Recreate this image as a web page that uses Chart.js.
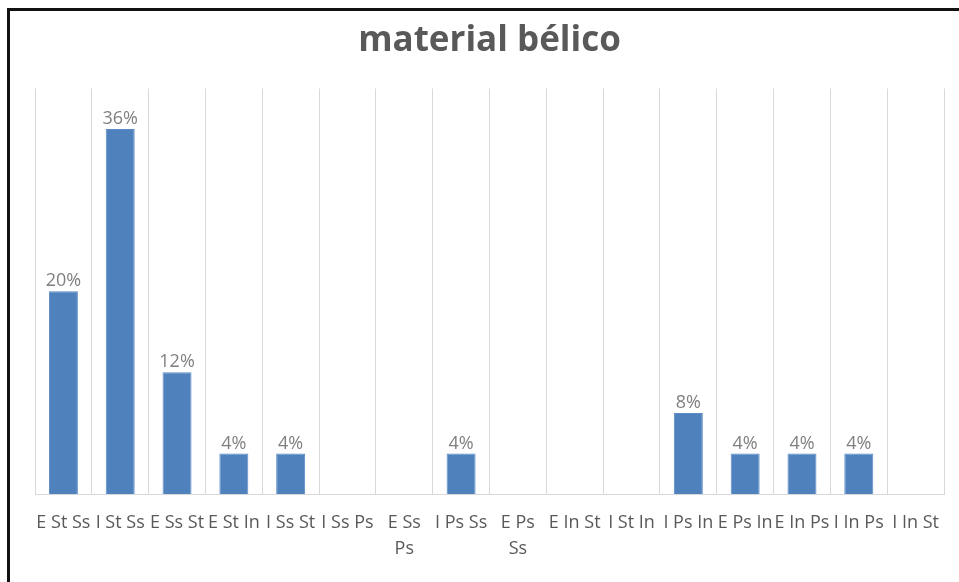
<!DOCTYPE html>
<html>
<head>
<meta charset="utf-8">
<title>material bélico</title>
<script src="https://cdn.jsdelivr.net/npm/chart.js@4.4.1/dist/chart.umd.min.js"></script>
<style>
  html, body { margin: 0; padding: 0; background: #fff; }
  #wrap { position: relative; width: 959px; height: 582px; overflow: hidden; }
  #chart { position: absolute; left: 0; top: 0; }
  #frame {
    position: absolute; left: 7px; top: 8px; width: 1000px; height: 600px;
    border-left: 3px solid #111; border-top: 3px solid #111;
    pointer-events: none;
  }
</style>
</head>
<body>
<div id="wrap">
  <canvas id="chart" width="959" height="582"></canvas>
  <div id="frame"></div>
</div>
<script>
// Combination codes along the category axis (multi-line where the label wraps)
const categories = [
  'E St Ss', 'I St Ss', 'E Ss St', 'E St In', 'I Ss St', 'I Ss Ps',
  ['E Ss', 'Ps'], 'I Ps Ss', ['E Ps', 'Ss'], 'E In St', 'I St In',
  'I Ps In', 'E Ps In', 'E In Ps', 'I In Ps', 'I In St'
];
// Share of responses per combination (fraction of 1)
const shares = [0.20, 0.36, 0.12, 0.04, 0.04, 0, 0, 0.04, 0, 0, 0, 0.08, 0.04, 0.04, 0.04, 0];
const valueMax = 0.40;

// Percentage labels above every non-zero bar
const barLabels = {
  id: 'barLabels',
  afterDatasetsDraw(chart) {
    const ctx = chart.ctx;
    const meta = chart.getDatasetMeta(0);
    ctx.save();
    ctx.font = '18px "Open Sans", sans-serif';
    ctx.fillStyle = '#808080';
    ctx.textAlign = 'center';
    ctx.textBaseline = 'bottom';
    meta.data.forEach((bar, i) => {
      const v = shares[i];
      if (!v) return;
      ctx.fillText(Math.round(v * 100) + '%', bar.x, bar.y - 1);
    });
    ctx.restore();
  }
};

new Chart(document.getElementById('chart'), {
  type: 'bar',
  data: {
    labels: categories,
    datasets: [{
      data: shares,
      backgroundColor: '#4F81BD',
      borderColor: '#5A8BC6',
      borderWidth: 1,
      categoryPercentage: 1,
      barPercentage: 0.51
    }]
  },
  options: {
    responsive: false,
    animation: false,
    layout: { padding: { left: 35, right: 15, top: 0, bottom: 0 } },
    plugins: {
      legend: { display: false },
      tooltip: { enabled: false },
      title: {
        display: true,
        text: 'material bélico',
        color: '#595959',
        font: { family: '"Open Sans", sans-serif', size: 35, weight: 'bold', lineHeight: 1.1 },
        padding: { top: 22, bottom: 28 }
      }
    },
    scales: {
      x: {
        grid: {
          offset: true,
          drawTicks: false,
          color: (c) => (c.index === categories.length ? 'rgba(0,0,0,0)' : '#D9D9D9'),
          lineWidth: 1
        },
        border: { display: true, color: '#D9D9D9', width: 1 },
        ticks: {
          autoSkip: false,
          maxRotation: 0,
          minRotation: 0,
          padding: 16,
          color: '#595959',
          font: { family: '"Open Sans", sans-serif', size: 18, lineHeight: 1.44 }
        },
        afterFit(scale) { scale.height = 88; }
      },
      y: {
        display: false,
        min: 0,
        max: valueMax
      }
    }
  },
  plugins: [barLabels]
});
</script>
</body>
</html>
